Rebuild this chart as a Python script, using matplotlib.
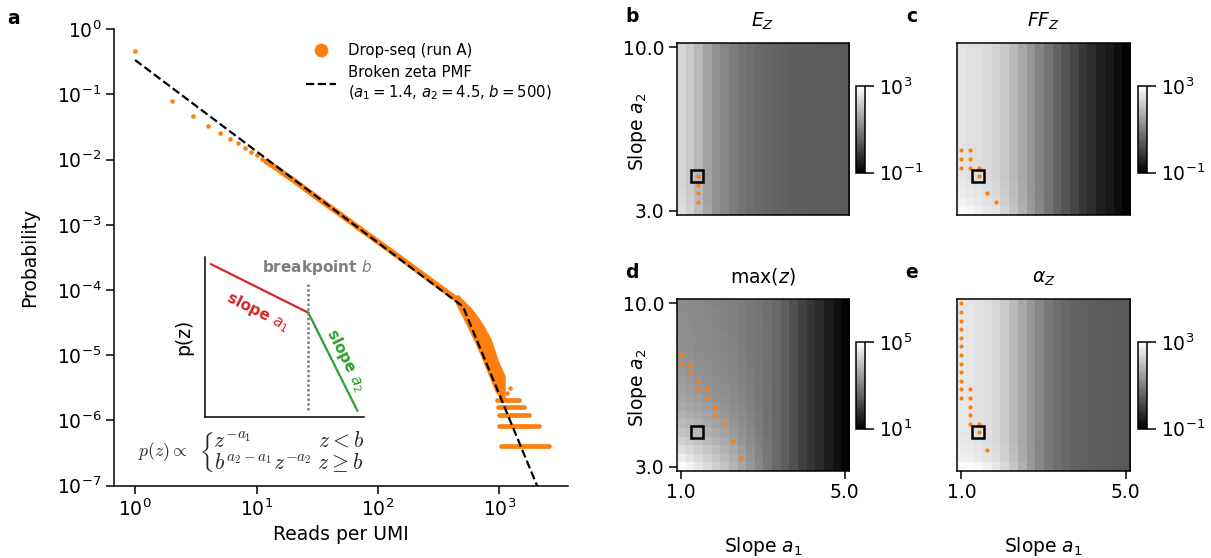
import numpy as np
import matplotlib
matplotlib.use("Agg")
import matplotlib.pyplot as plt
from matplotlib.colors import LogNorm
from matplotlib.ticker import NullLocator

W, H = 1211, 558
orange = "#ff7f0e"

# ---- panel a: reads per UMI ----
z_low = [1, 2, 3, 4, 5, 6, 7, 8, 9, 10, 11, 12]
p_low = [0.465, 0.0794, 0.0468, 0.0332, 0.0254, 0.0210, 0.0178, 0.0153,
         0.0133, 0.0117, 0.0104, 0.0093]

dense_z = [12, 13, 14, 15, 17, 20, 25, 30, 40, 50, 60, 70, 80, 100, 120,
           150, 200, 250, 300, 350, 400, 450]
dense_p = [9.3e-3, 8.5e-3, 7.8e-3, 7.2e-3, 6.0e-3, 4.9e-3, 3.6e-3, 2.8e-3,
           1.9e-3, 1.41e-3, 1.10e-3, 8.9e-4, 7.4e-4, 5.5e-4, 4.3e-4, 3.2e-4,
           2.14e-4, 1.58e-4, 1.23e-4, 1.0e-4, 8.3e-5, 7.1e-5]

blob_z = [450, 504, 571, 649, 736, 835, 948, 1075]
blob_lo = [6.3e-5, 4.2e-5, 2.6e-5, 1.6e-5, 9.3e-6, 5.2e-6, 2.9e-6, 2.3e-6]
blob_hi = [8.0e-5, 6.4e-5, 5.1e-5, 3.7e-5, 2.6e-5, 1.65e-5, 8.0e-6, 4.8e-6]

extra_z = [1150, 1219]
extra_p = [2.6e-6, 3.1e-6]

band_p = [4.05e-7, 8.1e-7, 1.22e-6, 1.62e-6, 2.03e-6]
band_start = [1029, 996, 990, 966, 948]
band_end = [2555, 2100, 1738, 1592, 1456]

pmf_z = [1, 500, 2200]
pmf_p = [0.338, 5.6e-5, 7.1e-8]

# inset sketch (axes fraction)
seg1_x, seg1_y = [0.036, 0.649], [0.957, 0.653]
seg2_x, seg2_y = [0.649, 0.958], [0.653, 0.040]
brk_x, brk_y = [0.649, 0.649], [0.044, 0.838]

# ---- panels b-e: grids over slopes ----
a1_grid = np.linspace(1.0, 5.0, 20)
a2_grid = np.linspace(3.0, 10.0, 20)

# log10 values, rows from top (a2 = 10) to bottom (a2 = 3)
ez_top = [2.33, 2.15, 1.89, 1.54, 1.29, 1.10, 0.95, 0.82, 0.73, 0.65,
          0.60, 0.55, 0.52, 0.49, 0.47, 0.46, 0.44, 0.43, 0.43, 0.41]
ez_log = [ez_top] * 17 + [
    [2.37, 2.18, 1.90, 1.56, 1.29, 1.10, 0.95, 0.82, 0.73, 0.65,
     0.60, 0.55, 0.52, 0.49, 0.47, 0.46, 0.44, 0.43, 0.43, 0.41],
    [2.42, 2.23, 1.93, 1.57, 1.30, 1.10, 0.95, 0.82, 0.73, 0.65,
     0.60, 0.55, 0.52, 0.49, 0.47, 0.46, 0.44, 0.43, 0.43, 0.41],
    [2.48, 2.29, 1.98, 1.60, 1.31, 1.11, 0.95, 0.82, 0.73, 0.65,
     0.60, 0.55, 0.52, 0.49, 0.47, 0.46, 0.44, 0.43, 0.43, 0.41],
]

ffz_top = [2.56, 2.51, 2.47, 2.40, 2.31, 2.14, 1.92, 1.64, 1.34, 1.07,
           0.80, 0.55, 0.32, 0.10, -0.11, -0.29, -0.47, -0.62, -0.78, -0.94]
ffz_log = [ffz_top] * 16 + [
    [2.64, 2.59, 2.53, 2.45, 2.36, 2.17, 1.95, 1.67, 1.35, 1.07,
     0.80, 0.55, 0.32, 0.10, -0.11, -0.29, -0.47, -0.62, -0.78, -0.94],
    [2.70, 2.64, 2.58, 2.48, 2.39, 2.20, 1.96, 1.68, 1.37, 1.09,
     0.80, 0.55, 0.32, 0.10, -0.11, -0.29, -0.47, -0.62, -0.78, -0.94],
    [2.80, 2.73, 2.65, 2.56, 2.45, 2.25, 2.01, 1.71, 1.40, 1.10,
     0.81, 0.55, 0.32, 0.10, -0.11, -0.29, -0.47, -0.62, -0.78, -0.94],
    [2.92, 2.86, 2.76, 2.67, 2.55, 2.33, 2.07, 1.76, 1.43, 1.13,
     0.82, 0.56, 0.32, 0.10, -0.11, -0.29, -0.47, -0.62, -0.78, -0.94],
]

maxz_log = [
    [3.20, 3.17, 3.13, 3.10, 3.07, 3.04, 2.99, 2.95, 2.88, 2.82, 2.74, 2.63, 2.47, 2.25, 2.04, 1.85, 1.66, 1.47, 1.28, 1.09],
    [3.21, 3.18, 3.15, 3.11, 3.08, 3.05, 3.00, 2.95, 2.89, 2.82, 2.74, 2.63, 2.47, 2.25, 2.04, 1.85, 1.66, 1.47, 1.28, 1.09],
    [3.23, 3.19, 3.16, 3.13, 3.09, 3.06, 3.01, 2.96, 2.89, 2.83, 2.74, 2.63, 2.47, 2.25, 2.04, 1.85, 1.66, 1.47, 1.28, 1.09],
    [3.24, 3.21, 3.17, 3.14, 3.10, 3.07, 3.01, 2.96, 2.90, 2.83, 2.75, 2.63, 2.47, 2.25, 2.04, 1.85, 1.66, 1.47, 1.28, 1.09],
    [3.26, 3.22, 3.19, 3.15, 3.11, 3.08, 3.02, 2.97, 2.90, 2.83, 2.75, 2.63, 2.47, 2.25, 2.04, 1.85, 1.66, 1.47, 1.28, 1.09],
    [3.27, 3.24, 3.20, 3.16, 3.12, 3.08, 3.03, 2.98, 2.91, 2.83, 2.75, 2.63, 2.47, 2.25, 2.04, 1.85, 1.66, 1.47, 1.28, 1.09],
    [3.31, 3.27, 3.23, 3.19, 3.15, 3.10, 3.05, 2.99, 2.91, 2.84, 2.75, 2.63, 2.47, 2.25, 2.04, 1.85, 1.66, 1.47, 1.28, 1.09],
    [3.34, 3.30, 3.25, 3.21, 3.17, 3.12, 3.06, 3.00, 2.92, 2.85, 2.75, 2.63, 2.47, 2.25, 2.04, 1.85, 1.66, 1.47, 1.28, 1.09],
    [3.38, 3.34, 3.29, 3.25, 3.20, 3.15, 3.08, 3.02, 2.94, 2.85, 2.76, 2.63, 2.47, 2.25, 2.04, 1.85, 1.66, 1.47, 1.28, 1.09],
    [3.43, 3.38, 3.33, 3.28, 3.23, 3.18, 3.11, 3.04, 2.95, 2.86, 2.76, 2.64, 2.47, 2.25, 2.04, 1.85, 1.66, 1.47, 1.28, 1.09],
    [3.49, 3.44, 3.39, 3.33, 3.27, 3.21, 3.14, 3.06, 2.97, 2.87, 2.77, 2.64, 2.47, 2.25, 2.04, 1.85, 1.66, 1.47, 1.28, 1.09],
    [3.57, 3.51, 3.46, 3.39, 3.32, 3.26, 3.17, 3.09, 2.99, 2.89, 2.77, 2.64, 2.47, 2.25, 2.04, 1.85, 1.66, 1.47, 1.28, 1.09],
    [3.67, 3.60, 3.54, 3.46, 3.39, 3.31, 3.22, 3.13, 3.02, 2.91, 2.78, 2.64, 2.47, 2.25, 2.04, 1.85, 1.66, 1.47, 1.28, 1.09],
    [3.78, 3.70, 3.63, 3.55, 3.46, 3.38, 3.27, 3.17, 3.05, 2.93, 2.79, 2.64, 2.47, 2.25, 2.04, 1.85, 1.66, 1.47, 1.28, 1.09],
    [3.92, 3.83, 3.75, 3.65, 3.56, 3.46, 3.34, 3.22, 3.09, 2.95, 2.80, 2.64, 2.47, 2.25, 2.04, 1.85, 1.66, 1.47, 1.28, 1.09],
    [4.07, 3.98, 3.88, 3.77, 3.66, 3.55, 3.42, 3.28, 3.14, 2.98, 2.81, 2.65, 2.47, 2.25, 2.04, 1.85, 1.66, 1.47, 1.28, 1.09],
    [4.26, 4.15, 4.05, 3.92, 3.79, 3.66, 3.51, 3.35, 3.19, 3.01, 2.83, 2.65, 2.47, 2.25, 2.04, 1.85, 1.66, 1.47, 1.28, 1.09],
    [4.48, 4.36, 4.23, 4.08, 3.94, 3.79, 3.61, 3.44, 3.26, 3.05, 2.85, 2.65, 2.47, 2.25, 2.04, 1.85, 1.66, 1.47, 1.28, 1.09],
    [4.70, 4.56, 4.42, 4.25, 4.09, 3.92, 3.72, 3.52, 3.32, 3.09, 2.86, 2.66, 2.47, 2.25, 2.04, 1.85, 1.66, 1.47, 1.28, 1.09],
    [4.92, 4.76, 4.61, 4.42, 4.23, 4.04, 3.82, 3.60, 3.38, 3.13, 2.88, 2.66, 2.47, 2.25, 2.04, 1.85, 1.66, 1.47, 1.28, 1.09],
]

alpha_top = [2.61, 2.58, 2.53, 2.47, 2.36, 2.17, 1.92, 1.64, 1.35, 1.10,
             0.88, 0.73, 0.63, 0.55, 0.51, 0.47, 0.44, 0.43, 0.41, 0.41]
alpha_log = [alpha_top] * 16 + [
    [2.65, 2.62, 2.56, 2.48, 2.39, 2.18, 1.93, 1.64, 1.35, 1.10,
     0.88, 0.73, 0.63, 0.55, 0.51, 0.47, 0.44, 0.43, 0.41, 0.41],
    [2.70, 2.67, 2.61, 2.53, 2.42, 2.22, 1.96, 1.66, 1.36, 1.10,
     0.88, 0.73, 0.63, 0.55, 0.51, 0.47, 0.44, 0.43, 0.41, 0.41],
    [2.76, 2.73, 2.67, 2.59, 2.47, 2.26, 2.00, 1.68, 1.37, 1.11,
     0.88, 0.73, 0.63, 0.55, 0.51, 0.47, 0.44, 0.43, 0.41, 0.41],
    [2.95, 2.92, 2.86, 2.76, 2.61, 2.39, 2.11, 1.74, 1.40, 1.12,
     0.89, 0.73, 0.63, 0.55, 0.51, 0.47, 0.44, 0.43, 0.41, 0.41],
]

# (a1 index, a2 index from bottom) of orange points
ez_dots = [(2, 4), (2, 3), (2, 2), (2, 1)]
ffz_dots = [(0, 7), (1, 7), (0, 6), (1, 6), (0, 5), (1, 5), (2, 5), (2, 4),
            (3, 2), (4, 1)]
maxz_dots = [(0, 13), (0, 12), (1, 12), (1, 11), (2, 10), (2, 9), (3, 9),
             (3, 8), (4, 7), (4, 6), (5, 5), (6, 3), (7, 1)]
alpha_dots = [(0, 19), (0, 18), (0, 17), (0, 16), (0, 15), (0, 14), (0, 13),
              (0, 12), (0, 11), (0, 10), (0, 9), (0, 8), (1, 9), (1, 8),
              (1, 7), (1, 6), (1, 5), (2, 5), (2, 4), (3, 2)]
best_a1, best_a2 = 1.4, 4.5


def box(x0, y0, x1, y1):
    # pixel box (top-left origin) to figure fraction
    return [x0 / W, 1 - y1 / H, (x1 - x0) / W, (y1 - y0) / H]


plt.rcParams.update({
    "font.size": 13.5,
    "axes.linewidth": 1.1,
    "xtick.major.size": 5.5,
    "ytick.major.size": 5.5,
    "xtick.major.width": 1.1,
    "ytick.major.width": 1.1,
})

fig = plt.figure(figsize=(W / 100, H / 100), dpi=100)

ax = fig.add_axes(box(114, 29.3, 568, 485.7))
ax.set_xscale("log")
ax.set_yscale("log")
ax.plot(dense_z, dense_p, color=orange, lw=4.0, solid_capstyle="round",
        solid_joinstyle="round", zorder=2)
ax.fill_between(blob_z, blob_lo, blob_hi, color=orange, lw=2.8, zorder=2)
for s, e, p in zip(band_start, band_end, band_p):
    ax.plot([s, e], [p, p], color=orange, lw=3.4, solid_capstyle="round", zorder=2)
ax.plot(extra_z, extra_p, "o", ms=3.3, mew=0, color=orange, zorder=2)
pts, = ax.plot(z_low, p_low, "o", ms=3.3, mew=0, color=orange, ls="none",
               label="Drop-seq (run A)", zorder=2)
pmf, = ax.plot(pmf_z, pmf_p, "--", color="k", lw=1.6, zorder=3,
               label="Broken zeta PMF\n($a_1=1.4$, $a_2=4.5$, $b=500$)")
ax.set_xlim(10 ** -0.173, 10 ** 3.564)
ax.set_ylim(1e-7, 1)
ax.set_xticks([1, 10, 100, 1000])
ax.set_yticks([1e-7, 1e-6, 1e-5, 1e-4, 1e-3, 1e-2, 1e-1, 1])
ax.xaxis.set_minor_locator(NullLocator())
ax.yaxis.set_minor_locator(NullLocator())
ax.spines["top"].set_visible(False)
ax.spines["right"].set_visible(False)
ax.set_xlabel("Reads per UMI")
ax.set_ylabel("Probability", labelpad=13)
ax.legend(handles=[pts, pmf], loc="upper left",
          bbox_to_anchor=(300 / W, 1 - 37 / H), bbox_transform=fig.transFigure,
          frameon=False, fontsize=10.7, markerscale=3.0, borderaxespad=0)

# inset sketch
ins = fig.add_axes(box(205.3, 257.3, 364, 417))
ins.set_xlim(0, 1)
ins.set_ylim(0, 1)
ins.set_xticks([])
ins.set_yticks([])
ins.spines["top"].set_visible(False)
ins.spines["right"].set_visible(False)
ins.patch.set_alpha(0)
ins.plot(seg1_x, seg1_y, color="tab:red", lw=1.6)
ins.plot(seg2_x, seg2_y, color="tab:green", lw=1.6)
ins.plot(brk_x, brk_y, color="tab:gray", lw=1.8, ls=(0, (1, 0.9)))
ins.text(0.704, 0.933, "breakpoint $b$", color="tab:gray", fontweight="bold",
         fontsize=11, ha="center", va="center")
ins.text(0.332, 0.659, "slope $a_1$", color="tab:red", fontweight="bold",
         fontsize=11, ha="center", va="center", rotation=-26.6,
         rotation_mode="anchor")
ins.text(0.887, 0.357, "slope $a_2$", color="tab:green", fontweight="bold",
         fontsize=11, ha="center", va="center", rotation=-63.4,
         rotation_mode="anchor")
ins.set_ylabel("p(z)", labelpad=9)

# piecewise definition under the inset
fig.text(138 / W, 1 - 452 / H, r"$p(z) \propto$", fontsize=12.8,
         math_fontfamily="cm", ha="left", va="center", color="0.15")
cases = (r"$\left\{\genfrac{}{}{0}{0}{z^{-a_1}\hspace{3.5}z < b}"
         r"{b^{a_2-a_1}z^{-a_2}\hspace{0.3}z \geq b}\right.$")
fig.text(199 / W, 1 - 452 / H, cases, fontsize=15.5,
         math_fontfamily="cm", ha="left", va="center", color="0.15")

# heatmaps
step1 = a1_grid[1] - a1_grid[0]
step2 = a2_grid[1] - a2_grid[0]
extent = [a1_grid[0] - step1 / 2, a1_grid[-1] + step1 / 2,
          a2_grid[0] - step2 / 2, a2_grid[-1] + step2 / 2]

panels = [
    (ez_log, 0.1, 1e3, ez_dots, "$E_Z$", "b", (676.7, 43, 849, 215), (856, 86, 865, 172.7), False, True),
    (ffz_log, 0.1, 1e3, ffz_dots, "$FF_Z$", "c", (957, 43, 1130, 215), (1138, 86, 1147, 172.7), False, False),
    (maxz_log, 10, 1e5, maxz_dots, "max($z$)", "d", (676.7, 299, 849, 471), (856, 342, 865, 428.7), True, True),
    (alpha_log, 0.1, 1e3, alpha_dots, r"$\alpha_Z$", "e", (957, 299, 1130, 471), (1138, 342, 1147, 428.7), True, False),
]

for grid, vmin, vmax, dots, title, letter, rect, crect, xl, yl in panels:
    hax = fig.add_axes(box(*rect))
    im = hax.imshow(10 ** np.array(grid), cmap="gray", norm=LogNorm(vmin, vmax),
                    extent=extent, origin="upper", aspect="auto",
                    interpolation="nearest")
    di = [d[0] for d in dots]
    dj = [d[1] for d in dots]
    hax.scatter(a1_grid[di], a2_grid[dj], s=9, color=orange, linewidths=0, zorder=3)
    hax.plot(best_a1, best_a2, "s", ms=9, mfc="none", mec="k", mew=1.8, zorder=4)
    hax.set_title(title, pad=12, fontsize=13.5)
    if xl:
        hax.set_xticks([1, 5])
        hax.set_xticklabels(["1.0", "5.0"])
        hax.set_xlabel("Slope $a_1$")
        hax.xaxis.set_label_coords(0.5, -0.375)
    else:
        hax.set_xticks([])
    if yl:
        hax.set_yticks([3, 10])
        hax.set_yticklabels(["3.0", "10.0"])
        hax.set_ylabel("Slope $a_2$")
        hax.yaxis.set_label_coords(-0.161, 0.485)
    else:
        hax.set_yticks([])
    cax = fig.add_axes(box(*crect))
    cb = fig.colorbar(im, cax=cax, ticks=[vmin, vmax])
    cax.yaxis.set_minor_locator(NullLocator())
    cax.tick_params(length=6.5, width=1.1)
    cb.outline.set_linewidth(1.1)
    fig.text((rect[0] - 45) / W, 1 - (rect[1] - 26) / H, letter,
             fontweight="bold", fontsize=13.5, ha="center", va="center")

fig.text(14 / W, 1 - 18 / H, "a", fontweight="bold", fontsize=13.5,
         ha="center", va="center")

fig.savefig("out.png", dpi=100)
